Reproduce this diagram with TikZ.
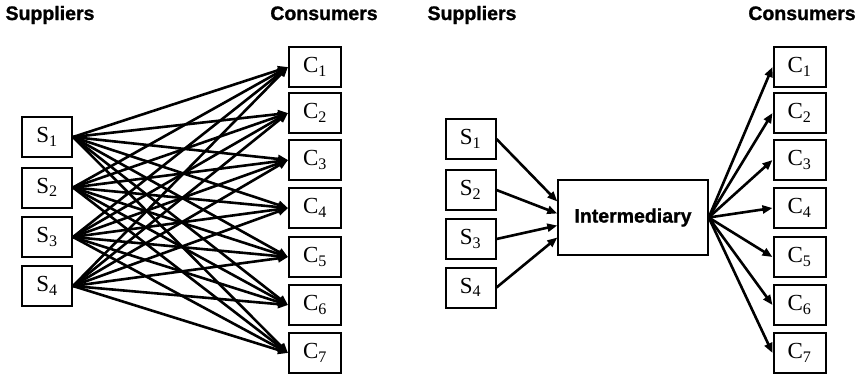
\documentclass[tikz,border=0pt]{standalone}
\usepackage{fontspec}
\setmainfont{Liberation Serif}
\newfontfamily\headfont[FakeBold=1.2]{Liberation Sans}
\usetikzlibrary{arrows.meta}
\tikzset{
  party/.style={draw,line width=2pt,minimum width=50pt,minimum height=40pt,inner sep=0pt,
    font=\fontsize{23}{23}\selectfont},
  hub/.style={draw,line width=1.4pt,minimum width=150pt,minimum height=75pt,inner sep=0pt,
    font=\headfont\bfseries\fontsize{19.5}{20}\selectfont},
  head/.style={font=\headfont\bfseries\fontsize{19.5}{20}\selectfont,anchor=base,inner sep=0pt},
  link/.style={-{Triangle[length=10pt,width=8pt]},line width=2.6pt},
}

\begin{document}
\begin{tikzpicture}[x=1pt,y=-1pt]
  \useasboundingbox (0,0) rectangle (861,376);
  % direct market: every supplier to every consumer
  \node[head] (lsh) at (50,20) {Suppliers};
  \node[head] (lch) at (324,20) {Consumers};
  \foreach \i/\y in {1/137,2/187.5,3/237,4/286}
    \node[party] (ls\i) at (47,\y) {S\textsubscript{\i}};
  \foreach \j/\y in {1/67,2/113,3/160,4/208,5/257,6/305,7/353}
    \node[party,minimum width=52pt] (lc\j) at (315,\y) {C\textsubscript{\j}};
  \foreach \i in {1,...,4}
    \foreach \j in {1,...,7}
      \draw[link] (ls\i.east) -- (lc\j.west);

  % same market through one intermediary
  \node[head] (rsh) at (472,20) {Suppliers};
  \node[head] (rch) at (802,20) {Consumers};
  \foreach \i/\y in {1/139,2/190,3/239,4/287.5}
    \node[party] (rs\i) at (470.5,\y) {S\textsubscript{\i}};
  \foreach \j/\y in {1/67,2/113,3/160,4/208,5/257,6/305,7/353}
    \node[party,minimum width=52pt] (rc\j) at (799.5,\y) {C\textsubscript{\j}};
  \node[hub] (mid) at (633,217.5) {Intermediary};
  \foreach \i/\dy in {1/16,2/4,3/-8,4/-20}
    \draw[link] (rs\i.east) -- ([yshift=\dy pt]mid.west);
  \foreach \j in {1,...,7}
    \draw[link] (mid.east) -- (rc\j.west);
\end{tikzpicture}
\end{document}
